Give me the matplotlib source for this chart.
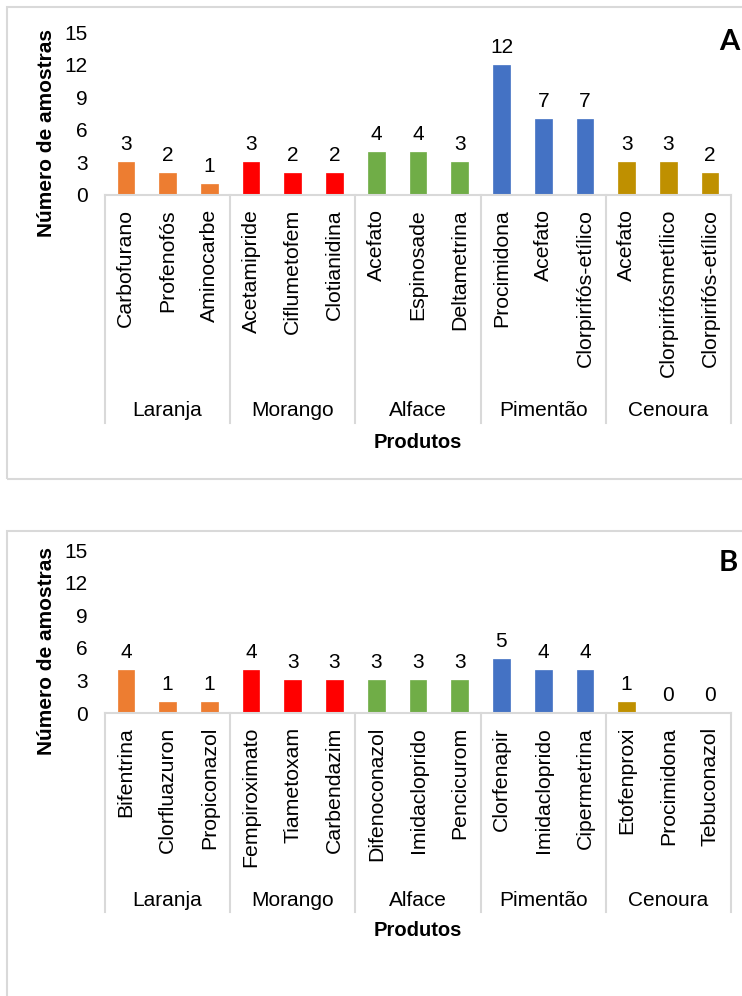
import matplotlib
matplotlib.use("Agg")
import matplotlib.pyplot as plt
from matplotlib.patches import Rectangle

plt.rcParams["font.family"] = ["Liberation Sans", "DejaVu Sans"]

groups = ["Laranja", "Morango", "Alface", "Pimentão", "Cenoura"]
group_colors = ["#ED7D31", "#FF0000", "#70AD47", "#4472C4", "#BF9000"]

labels_a = ["Carbofurano", "Profenofós", "Aminocarbe",
            "Acetamipride", "Ciflumetofem", "Clotianidina",
            "Acefato", "Espinosade", "Deltametrina",
            "Procimidona", "Acefato", "Clorpirifós-etílico",
            "Acefato", "Clorpirifósmetílico", "Clorpirifós-etílico"]
values_a = [3, 2, 1, 3, 2, 2, 4, 4, 3, 12, 7, 7, 3, 3, 2]

labels_b = ["Bifentrina", "Clorfluazuron", "Propiconazol",
            "Fempiroximato", "Tiametoxam", "Carbendazim",
            "Difenoconazol", "Imidacloprido", "Pencicurom",
            "Clorfenapir", "Imidacloprido", "Cipermetrina",
            "Etofenproxi", "Procimidona", "Tebuconazol"]
values_b = [4, 1, 1, 4, 3, 3, 3, 3, 3, 5, 4, 4, 1, 0, 0]

yticks = [0, 3, 6, 9, 12, 15]

W, H = 742, 996
grey = "#d9d9d9"


def px(v):
    # pixels -> points at dpi 100
    return v * 0.72


def panel(fig, zero_y, labels, values, letter, line_depth, group_y, title_y, letter_y):
    left, right = 105, 731
    ax = fig.add_axes([left / W, 1 - zero_y / H, (right - left) / W, 163 / H])
    n = len(labels)
    x = list(range(n))
    per = n // len(groups)
    colors = [group_colors[i // per] for i in range(n)]
    ax.bar(x, values, width=0.4, color=colors, edgecolor=colors, linewidth=0.5)
    for xi, v in zip(x, values):
        ax.annotate(str(v), (xi, v), xytext=(0, px(8)), textcoords="offset points",
                    ha="center", va="bottom", fontsize=15)
    ax.set_xlim(-0.5, n - 0.5)
    ax.set_ylim(0, 15)
    ax.set_yticks(yticks)
    ax.set_xticks(x)
    ax.set_xticklabels(labels, rotation=90, fontsize=15.3)
    ax.tick_params(axis="x", length=0, pad=px(14))
    ax.tick_params(axis="y", length=0, pad=px(17), labelsize=15)
    for s in ["left", "right", "top"]:
        ax.spines[s].set_visible(False)
    ax.spines["bottom"].set_color(grey)
    ax.spines["bottom"].set_linewidth(1.5)

    tr = ax.get_xaxis_transform()
    for k in range(len(groups) + 1):
        xb = k * per - 0.5
        ax.plot([xb, xb], [0, -line_depth / 163], transform=tr, color=grey,
                linewidth=1.5, clip_on=False)
    for k, g in enumerate(groups):
        ax.text(k * per + (per - 1) / 2, -group_y / 163, g, transform=tr,
                ha="center", va="center", fontsize=15)
    ax.text(7, -title_y / 163, "Produtos", transform=tr, ha="center",
            va="center", fontsize=14.5, fontweight="bold")
    fig.text(47 / W, 1 - (zero_y - 62) / H, "Número de amostras", rotation=90,
             ha="center", va="center", fontsize=15, fontweight="bold")
    fig.text(719 / W, 1 - letter_y / H, letter, ha="left", va="center",
             fontsize=21, fontweight="bold", family=["Lato", "DejaVu Sans"])
    return ax


fig = plt.figure(figsize=(W / 100, H / 100), dpi=100)

# light grey frames round each panel
fig.patches.append(Rectangle((7 / W, 1 - 479 / H), 760 / W, 472 / H,
                             transform=fig.transFigure, fill=False,
                             edgecolor=grey, linewidth=1.5))
fig.patches.append(Rectangle((7 / W, -0.05), 760 / W, 1 - 531 / H + 0.05,
                             transform=fig.transFigure, fill=False,
                             edgecolor=grey, linewidth=1.5))

panel(fig, 195, labels_a, values_a, "A", 228, 215, 247, 42)
panel(fig, 713, labels_b, values_b, "B", 199, 187, 217, 563)

fig.savefig("out.png", dpi=100)
